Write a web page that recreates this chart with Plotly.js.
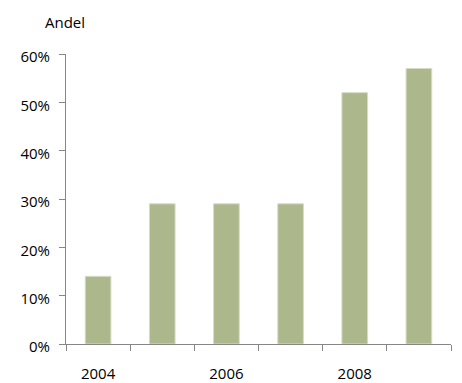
<!DOCTYPE html>
<html>
<head>
<meta charset="utf-8">
<script src="https://cdn.plot.ly/plotly-3.0.1.min.js"></script>
<style>html,body{margin:0;padding:0;background:#fff;}#chart{width:462px;height:383px;}</style>
</head>
<body>
<div id="chart"></div>
<script>
const years = ["2004", "2005", "2006", "2007", "2008", "2009"];
const tickLabels = ["2004", "", "2006", "", "2008", ""];
const shares = [0.14, 0.29, 0.29, 0.29, 0.52, 0.57];
const yTitle = "Andel";

const FONT = {family: "Open Sans, Liberation Sans, sans-serif", size: 15, color: "#000"};

Plotly.newPlot("chart", [{
  type: "bar",
  x: years,
  y: shares,
  marker: {color: "#acb78c", line: {color: "#d6dcc4", width: 1}},
  hoverinfo: "skip"
}], {
  width: 462, height: 383,
  margin: {l: 66, r: 11, t: 54, b: 39, pad: 0},
  paper_bgcolor: "#fff", plot_bgcolor: "#fff",
  font: FONT,
  bargap: 0.6,
  showlegend: false,
  xaxis: {
    type: "category",
    tickmode: "array", tickvals: years, ticktext: tickLabels,
    tickson: "boundaries",
    ticks: "outside", ticklen: 6, tickcolor: "#868686", tickwidth: 1,
    showline: true, linecolor: "#868686", linewidth: 1,
    showgrid: false, zeroline: false,
    ticklabelstandoff: 16,
    tickfont: FONT
  },
  yaxis: {
    range: [0, 0.6], dtick: 0.1, tickformat: ".0%",
    ticks: "outside", ticklen: 6, tickcolor: "#868686", tickwidth: 1,
    showline: true, linecolor: "#868686", linewidth: 1,
    showgrid: false, zeroline: false,
    ticklabelstandoff: 6,
    ticklabelshift: 3,
    tickfont: FONT
  },
  annotations: [{
    text: yTitle, xref: "paper", yref: "paper",
    x: (43 - 66) / 385, y: 1 + (54 - 22) / 290,
    xanchor: "left", yanchor: "middle", showarrow: false,
    font: FONT
  }]
}, {staticPlot: true, displayModeBar: false});
</script>
</body>
</html>
